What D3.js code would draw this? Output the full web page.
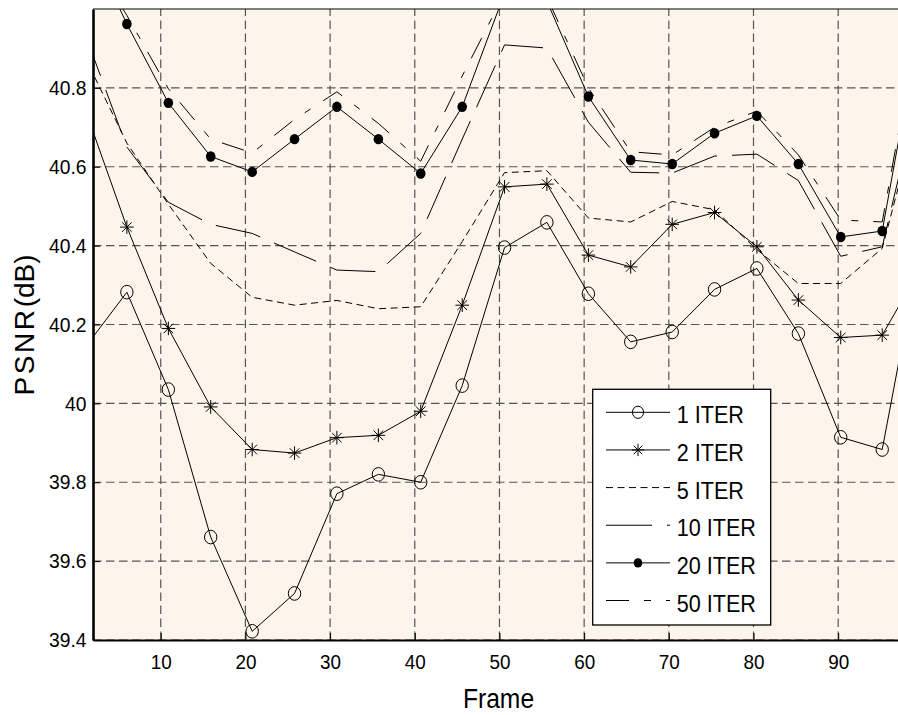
<!DOCTYPE html>
<html>
<head>
<meta charset="utf-8">
<script src="https://cdn.jsdelivr.net/npm/d3@7"></script>
<style>
  html, body { margin: 0; padding: 0; background: #ffffff; }
  svg { display: block; overflow: hidden; }
  text { font-family: "Liberation Sans", Arial, Helvetica, sans-serif; fill: #000; }
</style>
</head>
<body>
<svg id="chart" width="898" height="715"></svg>
<script>
// Frame positions of the sampled points (first and last fall just outside the visible x range)
const frames = [1, 6.0, 10.9, 15.9, 20.8, 25.8, 30.8, 35.7, 40.7, 45.6, 50.6,
                55.6, 60.5, 65.5, 70.4, 75.4, 80.4, 85.3, 90.3, 95.2, 100.2];

// PSNR (dB) per frame for each iteration count
const iter1  = [40.14, 40.282, 40.035, 39.661, 39.422, 39.518, 39.771, 39.820, 39.800, 40.045, 40.395,
                40.459, 40.278, 40.156, 40.181, 40.289, 40.342, 40.177, 39.914, 39.883, 40.45];
const iter2  = [40.75, 40.447, 40.190, 39.991, 39.883, 39.874, 39.913, 39.919, 39.980, 40.249, 40.549,
                40.556, 40.376, 40.346, 40.454, 40.484, 40.397, 40.262, 40.167, 40.173, 40.36];
const iter5  = [40.88, 40.66, 40.505, 40.355, 40.269, 40.249, 40.261, 40.240, 40.245, 40.41, 40.585,
                40.59, 40.47, 40.46, 40.512, 40.491, 40.39, 40.304, 40.304, 40.393, 40.80];
const iter10 = [40.94, 40.65, 40.51, 40.454, 40.431, 40.384, 40.338, 40.334, 40.431, 40.67, 40.909,
                40.901, 40.713, 40.586, 40.584, 40.627, 40.632, 40.565, 40.373, 40.397, 40.85];
const iter20 = [41.19, 40.962, 40.762, 40.626, 40.587, 40.670, 40.752, 40.670, 40.583, 40.752, 41.04,
                41.02, 40.778, 40.617, 40.607, 40.685, 40.729, 40.607, 40.422, 40.437, 41.03];
const iter50 = [41.15, 40.984, 40.798, 40.670, 40.635, 40.72, 40.790, 40.71, 40.614, 40.83, 41.04,
                41.03, 40.80, 40.638, 40.630, 40.70, 40.741, 40.63, 40.465, 40.46, 41.05];

const seriesNames = ["1 ITER", "2 ITER", "5 ITER", "10 ITER", "20 ITER", "50 ITER"];
const seriesValues = [iter1, iter2, iter5, iter10, iter20, iter50];

// Axis ticks
const xTicks = [10, 20, 30, 40, 50, 60, 70, 80, 90];
const yTicks = [39.4, 39.6, 39.8, 40, 40.2, 40.4, 40.6, 40.8];

// Line style per series: dash pattern and marker type
const styles = {
  "1 ITER":  { dash: null,          marker: "circle" },
  "2 ITER":  { dash: null,          marker: "star" },
  "5 ITER":  { dash: "7 4.5",       marker: null },
  "10 ITER": { dash: "46 15",       marker: null },
  "20 ITER": { dash: null,          marker: "dot" },
  "50 ITER": { dash: "23 15 7 15",  marker: null }
};

const svg = d3.select("#chart");
const plot = { left: 93, right: 900, top: 9, bottom: 640 };

const x = d3.scaleLinear().domain([2, 97.3]).range([plot.left, plot.right]);
const y = d3.scaleLinear().domain([39.4, 41.0]).range([plot.bottom, plot.top]);

// Plot background
svg.append("rect")
  .attr("x", plot.left).attr("y", plot.top)
  .attr("width", plot.right - plot.left).attr("height", plot.bottom - plot.top)
  .attr("fill", "#fdf5eb");

svg.append("defs").append("clipPath").attr("id", "plotClip")
  .append("rect")
  .attr("x", plot.left).attr("y", plot.top)
  .attr("width", plot.right - plot.left).attr("height", plot.bottom - plot.top);

// Dashed grid
const grid = svg.append("g").attr("stroke", "#555").attr("stroke-width", 1.2)
  .attr("stroke-dasharray", "8.5 4.5").attr("fill", "none");
grid.selectAll("line.v").data(xTicks).join("line").attr("class", "v")
  .attr("x1", d => x(d)).attr("x2", d => x(d))
  .attr("y1", plot.bottom).attr("y2", plot.top);
grid.selectAll("line.h").data(yTicks).join("line").attr("class", "h")
  .attr("y1", d => y(d)).attr("y2", d => y(d))
  .attr("x1", plot.left).attr("x2", plot.right);

// Marker drawing helpers
function drawMarker(g, type, cx, cy, scale) {
  const s = scale || 1;
  if (type === "circle") {
    g.append("ellipse").attr("cx", cx).attr("cy", cy)
      .attr("rx", 6.2 * s).attr("ry", 6.8 * s)
      .attr("fill", "none").attr("stroke", "#000").attr("stroke-width", 1);
  } else if (type === "dot") {
    g.append("ellipse").attr("cx", cx).attr("cy", cy)
      .attr("rx", 4.8 * s).attr("ry", 5.2 * s).attr("fill", "#000");
  } else if (type === "star") {
    const a = 6.8 * s, b = 4.8 * s;
    const p = `M${cx},${cy - a}L${cx},${cy + a}` +
              `M${cx - a},${cy}L${cx + a},${cy}` +
              `M${cx - b},${cy - b}L${cx + b},${cy + b}` +
              `M${cx - b},${cy + b}L${cx + b},${cy - b}`;
    g.append("path").attr("d", p).attr("stroke", "#000")
      .attr("stroke-width", 1).attr("fill", "none");
  }
}

// Series lines and markers
const lineGen = d3.line().x(d => x(d[0])).y(d => y(d[1]));
const dataLayer = svg.append("g").attr("clip-path", "url(#plotClip)");
seriesNames.forEach((name, k) => {
  const pts = frames.map((f, i) => [f, seriesValues[k][i]]);
  const st = styles[name];
  dataLayer.append("path").datum(pts)
    .attr("d", lineGen)
    .attr("fill", "none").attr("stroke", "#000").attr("stroke-width", 1)
    .attr("stroke-dasharray", st.dash);
  if (st.marker) {
    const mg = dataLayer.append("g");
    pts.forEach(p => drawMarker(mg, st.marker, x(p[0]), y(p[1])));
  }
});

// Axes
const xAxis = d3.axisBottom(x).tickValues(xTicks).tickFormat(d3.format("d"))
  .tickSizeInner(-7).tickSizeOuter(0).tickPadding(14.4);
const yAxis = d3.axisLeft(y).tickValues(yTicks).tickFormat(d => String(+d.toFixed(1)))
  .tickSizeInner(-7).tickSizeOuter(0).tickPadding(7);

const gx = svg.append("g").attr("transform", `translate(0,${plot.bottom})`).call(xAxis);
const gy = svg.append("g").attr("transform", `translate(${plot.left},0)`).call(yAxis);
[gx, gy].forEach(g => {
  g.selectAll("text").style("font-size", "21px")
    .style("font-family", "'Liberation Sans', Arial, sans-serif").attr("fill", "#000");
  g.selectAll(".tick line").attr("stroke", "#000").attr("stroke-width", 1);
});
gx.select(".domain").attr("stroke", "#000").attr("stroke-width", 2.2);
gy.select(".domain").attr("stroke", "#000").attr("stroke-width", 2.6);
gx.selectAll("text").attr("transform", "scale(0.9,1)").attr("x", null)
  .each(function(d) { d3.select(this).attr("x", 0); });
gy.selectAll("text").attr("transform", "scale(0.92,1)");

// Top border of the axes box
svg.append("line").attr("x1", plot.left).attr("x2", plot.right)
  .attr("y1", plot.top).attr("y2", plot.top)
  .attr("stroke", "#000").attr("stroke-width", 1.2);

// Axis titles
svg.append("text")
  .attr("transform", "translate(498.5,708.3) scale(0.88,1)")
  .attr("text-anchor", "middle").style("font-size", "28px").text("Frame");

const yl = svg.append("text")
  .attr("transform", "translate(33.5,325) rotate(-90)")
  .attr("text-anchor", "middle").style("font-size", "28px");
yl.append("tspan").attr("letter-spacing", "2.6px").text("PSNR");
yl.append("tspan").text("(dB)");

// Legend
const legend = { x0: 592.7, y0: 389.3, x1: 770.7, y1: 625 };
const lg = svg.append("g");
lg.append("rect")
  .attr("x", legend.x0).attr("y", legend.y0)
  .attr("width", legend.x1 - legend.x0).attr("height", legend.y1 - legend.y0)
  .attr("fill", "#fff").attr("stroke", "#000").attr("stroke-width", 1.3);

const legendY = d3.scaleLinear().domain([0, 5]).range([412.3, 600.5]);
seriesNames.forEach((name, k) => {
  const st = styles[name];
  const ly = legendY(k);
  lg.append("line").attr("x1", 606).attr("x2", 670).attr("y1", ly).attr("y2", ly)
    .attr("stroke", "#000").attr("stroke-width", 1).attr("stroke-dasharray", st.dash);
  if (st.marker) drawMarker(lg, st.marker, 638, ly, 0.9);
  lg.append("text")
    .attr("transform", `translate(676.7,${ly + 11}) scale(0.9,1)`)
    .style("font-size", "24px").text(name);
});
</script>
</body>
</html>
